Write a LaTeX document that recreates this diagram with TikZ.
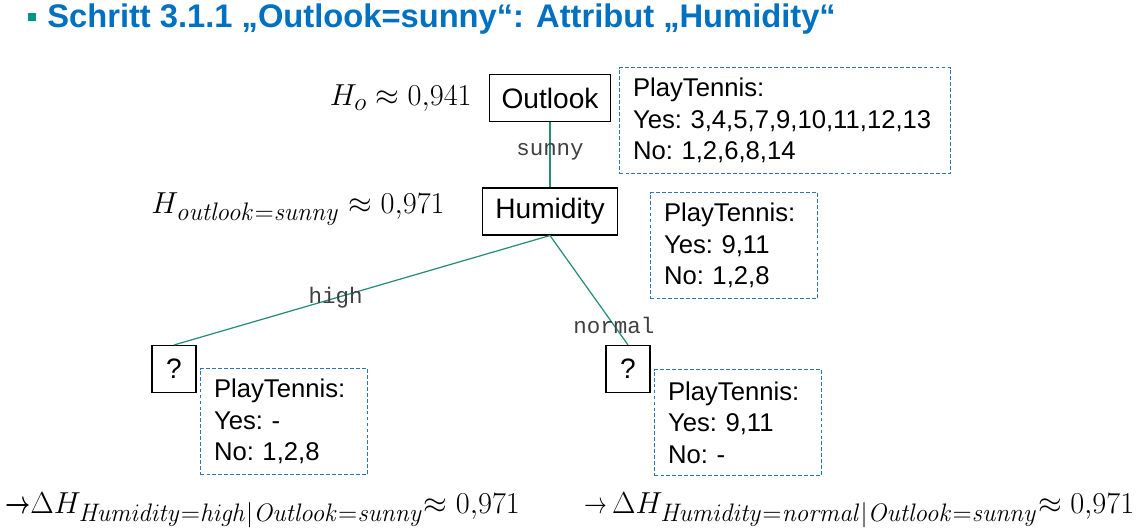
\documentclass[tikz,border=0pt]{standalone}
\usepackage{amsmath,amssymb}
\usepackage[no-math]{fontspec}
\setmainfont{Liberation Sans}
\setmonofont{Liberation Mono}
\usepackage{tikz}
\usetikzlibrary{positioning}
\DeclareMathSizes{17}{17}{13.4}{10}
\definecolor{treeline}{RGB}{38,140,120}
\definecolor{infoblue}{RGB}{46,117,182}
\definecolor{titleblue}{RGB}{0,112,192}
\definecolor{bulletgreen}{RGB}{0,150,130}
\definecolor{labelgray}{RGB}{64,64,64}

\begin{document}
\begin{tikzpicture}[x=0.2mm,y=-0.2mm,
  attr/.style={rectangle,draw=black,line width=0.6pt,fill=white,inner xsep=2.5mm,minimum width=8.8mm,minimum height=9.4mm,font=\fontsize{16}{19}\selectfont},
  info/.style={rectangle,draw=infoblue,line width=0.6pt,dash pattern=on 2.2pt off 1.2pt,anchor=north west,align=left,inner xsep=2.7mm,text width=28mm,minimum height=21.2mm,font=\fontsize{14.6}{18}\selectfont\frenchspacing},
  elab/.style={font=\ttfamily\fontsize{12.8}{15}\selectfont,text=labelgray,inner sep=0pt},
  edge/.style={treeline,line width=0.7pt},
  hval/.style={inner sep=0pt,font=\fontsize{17}{20}\selectfont}]
\useasboundingbox (0,0) rectangle (1137,529);
\node[fill=bulletgreen,minimum size=1.7mm,inner sep=0pt] (bullet) at (32,17) {};
\node[anchor=base west,inner sep=0pt,text=titleblue,font=\bfseries\fontsize{18.6}{22}\selectfont] (title) at (47,28) {Schritt 3.1.1 „Outlook=sunny“: Attribut „Humidity“};
\node[attr] (outlook) at (550,98) {Outlook};
\node[attr] (humid) at (550,211.5) {Humidity};
\node[attr] (qhigh) at (174,369) {?};
\node[attr] (qnorm) at (628,369) {?};
\node[info,text width=60.8mm] (inf0) at (619,67) {PlayTennis:\\Yes: 3,4,5,7,9,10,11,12,13\\No: 1,2,6,8,14};
\node[info] (inf1) at (650,192) {PlayTennis:\\Yes: 9,11\\No: 1,2,8};
\node[info] (inf2) at (200,368) {PlayTennis:\\Yes: -\\No: 1,2,8};
\node[info] (inf3) at (654,369) {PlayTennis:\\Yes: 9,11\\No: -};
\draw[edge] (outlook) -- (humid) node[elab,pos=0.45] {sunny};
\foreach \d/\t/\p in {qhigh/high/0.57,qnorm/normal/0.82}
  \draw[edge] (humid.south) -- (\d.north) node[elab,pos=\p] {\t};
\node[hval,anchor=base east] (ho) at (472,106) {$H_o \approx 0{,}941$};
\node[hval,anchor=base east] (hsun) at (445,213) {$H_{\mathit{outlook}=\mathit{sunny}} \approx 0{,}971$};
\node[hval,anchor=base west] (dhigh) at (5,513) {$\mathord{\scalebox{0.72}[1.05]{$\boldsymbol{\rightarrow}$}}\Delta H_{\mathit{Humidity}=\mathit{high}|\mathit{Outlook}=\mathit{sunny}}\mathord{\approx}\; 0{,}971$};
\node[hval,anchor=base west] (dnorm) at (584,513) {$\mathord{\scalebox{0.75}[1]{$\rightarrow$}}\, \Delta H_{\mathit{Humidity}=\mathit{normal}|\mathit{Outlook}=\mathit{sunny}}\mathord{\approx}\; 0{,}971$};
\end{tikzpicture}
\end{document}
